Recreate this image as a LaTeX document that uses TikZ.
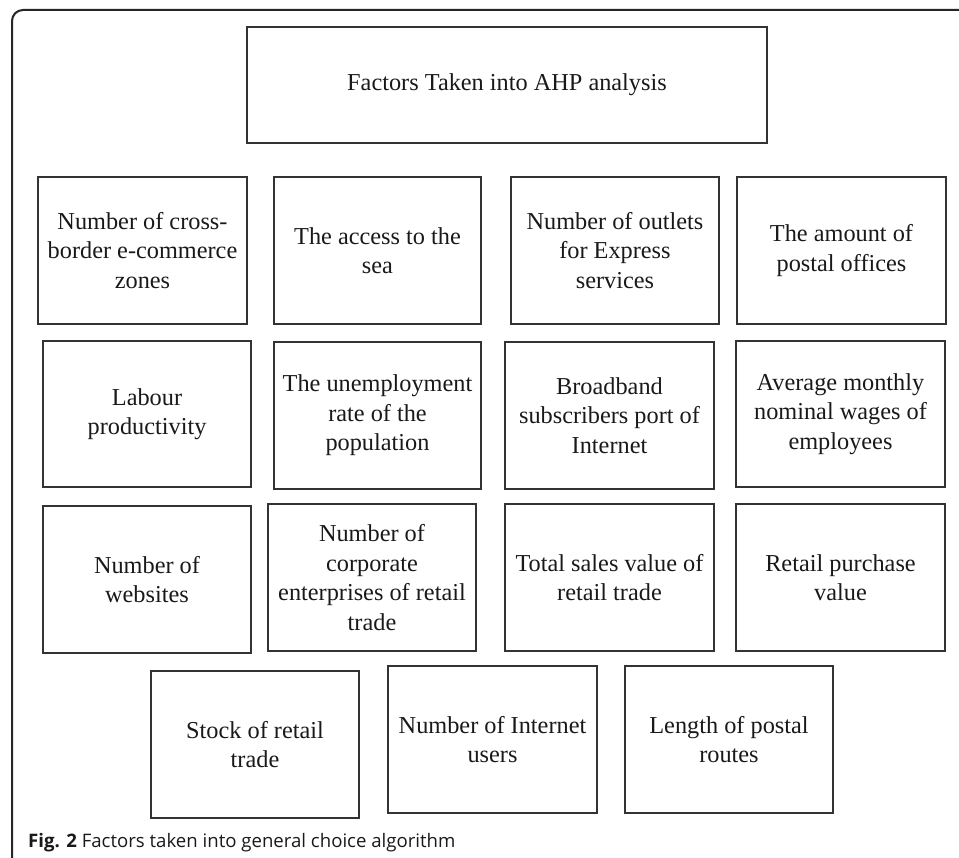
\documentclass[tikz,border=0pt]{standalone}
\usepackage{fontspec}
\setmainfont{Liberation Serif}
\newfontfamily\capfont{Open Sans}
\begin{document}
\begin{tikzpicture}[x=1pt,y=-1pt,
  factor/.style={draw=black!80, line width=1.3pt, rectangle, inner sep=0pt,
    align=center, font=\fontsize{24.3}{29.5}\selectfont, text=black!90},
  frame/.style={draw=black!85, line width=2pt}]
\useasboundingbox (0,0) rectangle (959,858);
\coordinate (fb) at (12,858);
\coordinate (fc) at (12,10);
\coordinate (fr) at (959,10);
\draw[frame, rounded corners=11pt] (fb) -- (fc) -- (fr);

\node[factor, minimum width=520pt, minimum height=116pt] (top) at (507,85) {Factors Taken into AHP analysis};

\node[factor, minimum width=209pt, minimum height=147pt] (b1) at (142.5,250.5) {Number of cross-\\border e-commerce\\zones};
\node[factor, minimum width=207pt, minimum height=147pt] (b2) at (377.5,250.5) {The access to the\\sea};
\node[factor, minimum width=208pt, minimum height=147pt] (b3) at (615,250.5) {Number of outlets\\for Express\\services};
\node[factor, minimum width=209pt, minimum height=147pt] (b4) at (841.5,250.5) {The amount of\\postal offices};

\node[factor, minimum width=208pt, minimum height=146pt] (b5) at (147,414) {Labour\\productivity};
\node[factor, minimum width=207pt, minimum height=147pt] (b6) at (377.5,415.5) {The unemployment\\rate of the\\population};
\node[factor, minimum width=209pt, minimum height=147pt] (b7) at (609.5,415.5) {Broadband\\subscribers port of\\Internet};
\node[factor, minimum width=209pt, minimum height=146pt] (b8) at (840.5,414) {Average monthly\\nominal wages of\\employees};

\node[factor, minimum width=208pt, minimum height=147pt] (b9) at (147,579.5) {Number of\\websites};
\node[factor, minimum width=208pt, minimum height=147pt] (b10) at (372,577.5) {Number of\\corporate\\enterprises of retail\\trade};
\node[factor, minimum width=209pt, minimum height=147pt] (b11) at (609.5,577.5) {Total sales value of\\retail trade};
\node[factor, minimum width=209pt, minimum height=147pt] (b12) at (840.5,577.5) {Retail purchase\\value};

\node[factor, minimum width=208pt, minimum height=147pt] (b13) at (255,744.5) {Stock of retail\\trade};
\node[factor, minimum width=209pt, minimum height=147pt] (b14) at (492.5,739.5) {Number of Internet\\users};
\node[factor, minimum width=208pt, minimum height=147pt] (b15) at (729,739.5) {Length of postal\\routes};

\node[anchor=base west, inner sep=0pt, text=black!90, font=\capfont\fontsize{18.6}{22}\selectfont] (cap) at (28,847) {\textbf{Fig. 2} Factors taken into general choice algorithm};
\end{tikzpicture}
\end{document}
